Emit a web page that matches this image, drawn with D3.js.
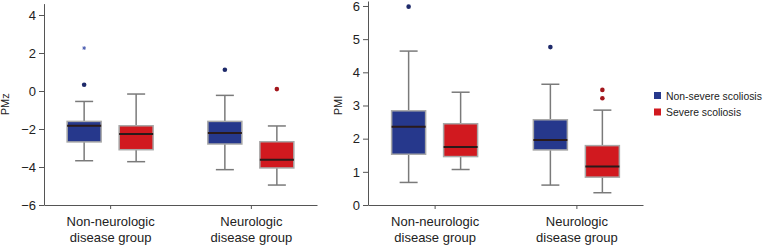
<!DOCTYPE html>
<html>
<head>
<meta charset="utf-8">
<script src="https://cdn.jsdelivr.net/npm/d3@7"></script>
<style>
  body { margin: 0; background: #fff; }
  text { font-family: "Liberation Sans", Arial, sans-serif; }
</style>
</head>
<body>
<svg id="chart" width="766" height="245"></svg>
<script>
// groups and series
const groups = ["Non-neurologic disease group", "Neurologic disease group"];
const groupLines = [["Non-neurologic", "disease group"], ["Neurologic", "disease group"]];
const series = ["Non-severe scoliosis", "Severe scoliosis"];
const seriesColors = ["#26388c", "#d1191f"];
const outlierColors = ["#1e2a6a", "#a3161c"];

// box stats: [low whisker, Q1, median, Q3, high whisker], order group x series
const pmzBoxes = [
  [-3.67, -2.68, -1.83, -1.60, -0.55],
  [-3.72, -3.09, -2.26, -1.83, -0.16],
  [-4.14, -2.79, -2.21, -1.60, -0.23],
  [-4.95, -4.05, -3.62, -2.67, -1.84]
];
const pmzOutliers = [[0.33], [], [1.12], [0.10]];
const pmzExtremes = [[2.26], [], [], []];

const pmiBoxes = [
  [0.68, 1.53, 2.36, 2.84, 4.64],
  [1.07, 1.46, 1.75, 2.45, 3.40],
  [0.60, 1.66, 1.96, 2.57, 3.64],
  [0.37, 0.84, 1.16, 1.79, 2.86]
];
const pmiOutliers = [[5.98], [], [4.76], [3.47, 3.22]];
const pmiExtremes = [[], [], [], []];

const pmzTicks = [-6, -4, -2, 0, 2, 4];
const pmiTicks = [0, 1, 2, 3, 4, 5, 6];

const svg = d3.select("#chart");

function drawPanel(opt) {
  const g = svg.append("g");

  const y = d3.scaleLinear().domain(opt.domain).range([205, opt.top]);
  const x = d3.scalePoint().domain(groups).range([opt.left, opt.right]).padding(0.47);
  const inner = d3.scaleBand().domain(series).range([-43, 43]).paddingInner(0.346);

  // y axis
  const yAxis = g.append("g")
    .attr("transform", "translate(" + opt.left + ",0)")
    .call(d3.axisLeft(y).tickValues(opt.ticks).tickSize(5).tickSizeOuter(0)
      .tickFormat(d => d < 0 ? "\u2212" + Math.abs(d) : d));
  yAxis.select(".domain").attr("stroke", "#555");
  yAxis.selectAll(".tick line").attr("stroke", "#555");
  yAxis.selectAll(".tick text").attr("fill", "#222").style("font-size", "13px").attr("x", -8);

  // x axis
  const xAxis = g.append("g")
    .attr("transform", "translate(0,205)")
    .call(d3.axisBottom(x).tickSize(4).tickSizeOuter(0).tickFormat(""));
  xAxis.select(".domain").attr("stroke", "#555");
  xAxis.selectAll(".tick line").attr("stroke", "#555");
  xAxis.selectAll(".tick").each(function(d, i) {
    const t = d3.select(this).append("text")
      .attr("fill", "#222").attr("text-anchor", "middle")
      .style("font-size", "13px");
    groupLines[i].forEach((line, j) => {
      t.append("tspan").attr("x", 0).attr("y", 21 + j * 16).text(line);
    });
  });

  // y label
  g.append("text")
    .attr("transform", "translate(" + opt.labelX + "," + y(opt.labelAt) + ") rotate(-90)")
    .attr("text-anchor", "middle")
    .attr("fill", "#222")
    .style("font-size", "11px")
    .text(opt.label);

  const items = [];
  groups.forEach((gr, gi) => {
    series.forEach((s, si) => {
      items.push({ g: gr, s: s, si: si, k: gi * 2 + si });
    });
  });

  const bw = inner.bandwidth();
  const cx = d => x(d.g) + inner(d.s) + bw / 2;

  const boxes = g.selectAll(".box").data(items).enter().append("g").attr("class", "box");

  // whiskers
  boxes.append("line")
    .attr("x1", cx).attr("x2", cx)
    .attr("y1", d => y(opt.boxes[d.k][0])).attr("y2", d => y(opt.boxes[d.k][1]))
    .attr("stroke", "#7a7a7a").attr("stroke-width", 1.5);
  boxes.append("line")
    .attr("x1", cx).attr("x2", cx)
    .attr("y1", d => y(opt.boxes[d.k][3])).attr("y2", d => y(opt.boxes[d.k][4]))
    .attr("stroke", "#7a7a7a").attr("stroke-width", 1.5);
  [0, 4].forEach(idx => {
    boxes.append("line")
      .attr("x1", d => cx(d) - 9).attr("x2", d => cx(d) + 9)
      .attr("y1", d => y(opt.boxes[d.k][idx])).attr("y2", d => y(opt.boxes[d.k][idx]))
      .attr("stroke", "#7a7a7a").attr("stroke-width", 1.5);
  });

  // box
  boxes.append("rect")
    .attr("x", d => x(d.g) + inner(d.s))
    .attr("width", bw)
    .attr("y", d => y(opt.boxes[d.k][3]))
    .attr("height", d => y(opt.boxes[d.k][1]) - y(opt.boxes[d.k][3]))
    .attr("fill", d => seriesColors[d.si])
    .attr("stroke", "#a8a8a8").attr("stroke-width", 1.5);

  // median
  boxes.append("line")
    .attr("x1", d => x(d.g) + inner(d.s)).attr("x2", d => x(d.g) + inner(d.s) + bw)
    .attr("y1", d => y(opt.boxes[d.k][2])).attr("y2", d => y(opt.boxes[d.k][2]))
    .attr("stroke", "#2a1a1a").attr("stroke-width", 2);

  // outliers
  boxes.each(function(d) {
    d3.select(this).selectAll("circle").data(opt.outliers[d.k]).enter().append("circle")
      .attr("cx", cx(d)).attr("cy", v => y(v)).attr("r", 2.3)
      .attr("fill", outlierColors[d.si]);
    d3.select(this).selectAll(".ext").data(opt.extremes[d.k]).enter().append("path")
      .attr("class", "ext")
      .attr("transform", v => "translate(" + cx(d) + "," + y(v) + ")")
      .attr("d", d3.symbol().type(d3.symbolAsterisk).size(10))
      .attr("stroke", "#4a5bb0").attr("stroke-width", 1).attr("fill", "none");
  });
}

drawPanel({ left: 44, right: 317, top: 3.6, domain: [-6, 4.6], ticks: pmzTicks,
  boxes: pmzBoxes, outliers: pmzOutliers, extremes: pmzExtremes,
  label: "PMz", labelX: 9, labelAt: -0.7 });

drawPanel({ left: 368, right: 643, top: 1, domain: [0, 6.15], ticks: pmiTicks,
  boxes: pmiBoxes, outliers: pmiOutliers, extremes: pmiExtremes,
  label: "PMI", labelX: 342, labelAt: 3.0 });

// legend
const legend = svg.append("g").attr("transform", "translate(654,92)");
series.forEach((s, i) => {
  const row = legend.append("g").attr("transform", "translate(0," + i * 16.5 + ")");
  row.append("rect").attr("width", 7).attr("height", 7).attr("fill", seriesColors[i]);
  row.append("text").attr("x", 12).attr("y", 7.5)
    .attr("fill", "#222").style("font-size", "10.4px").text(s);
});
</script>
</body>
</html>
